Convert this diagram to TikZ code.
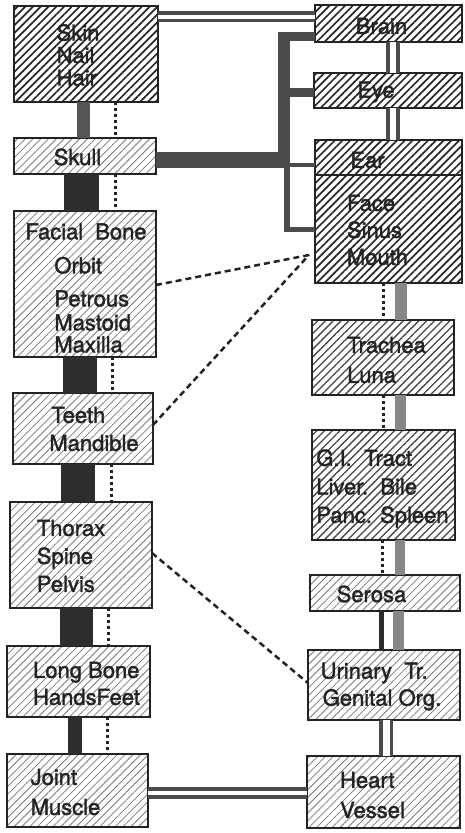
\documentclass[tikz,border=0pt]{standalone}
\usepackage{fontspec}
\setmainfont{TeX Gyre Heros}
\newfontfamily\labelfont{TeX Gyre Heros}[FakeBold=1.6]
\usetikzlibrary{patterns.meta}
\definecolor{inkblack}{RGB}{35, 35, 35}
\definecolor{hatchdark}{RGB}{40, 40, 40}
\definecolor{hatchmid}{RGB}{70, 70, 70}
\definecolor{hatchlight}{RGB}{120, 120, 120}
\definecolor{bardark}{RGB}{45, 45, 45}
\definecolor{bartrunk}{RGB}{75, 75, 75}
\definecolor{bargray}{RGB}{85, 85, 85}
\definecolor{barpale}{RGB}{135, 135, 135}

\begin{document}
\begin{tikzpicture}[x=1pt, y=-1pt,
    organ/.style={draw=inkblack, line width=2.6pt, outer sep=0pt, inner sep=0pt},
    dims/.style 2 args={minimum width=#1pt, minimum height=#2pt},
    darkbox/.style={organ, pattern={Lines[angle=45, distance=5.5pt, line width=1.7pt]},
      pattern color=hatchdark},
    midbox/.style={organ, pattern={Lines[angle=45, distance=5.5pt, line width=1.3pt]},
      pattern color=hatchmid},
    lightbox/.style={organ, pattern={Lines[angle=45, distance=5.5pt, line width=0.8pt]},
      pattern color=hatchlight},
    txt/.style={font=\labelfont\fontsize{22}{28}\selectfont, align=left, inner sep=0pt, text=inkblack},
    solidbar/.style={line width=#1, bardark},
    graybar/.style={line width=#1, barpale},
    dotline/.style={line width=3pt, inkblack, dash pattern=on 3pt off 3pt},
    dashline/.style={line width=2.5pt, inkblack, dash pattern=on 6pt off 4pt},
    twinline/.style={double=white, double distance=#1, line width=3.8pt, bartrunk}]

\useasboundingbox (0,0) rectangle (465,833);

%% ── LEFT COLUMN: bone / surface ─────────────────────────────────────────────
\node[darkbox, dims={144}{96}] (skin) at (86,54) {};
\node[lightbox, dims={142}{36}] (skull) at (85,156) {};
\node[lightbox, dims={142}{146}] (facial) at (85,284) {};
\node[lightbox, dims={140}{71}] (teeth) at (83,428.5) {};
\node[lightbox, dims={142}{106}] (thorax) at (81,555) {};
\node[lightbox, dims={143}{71}] (longbone) at (78.5,681.5) {};
\node[lightbox, dims={141}{73}] (joint) at (77.5,790.5) {};

\node[txt, font=\labelfont\fontsize{22}{22.5}\selectfont] (skintx) at (78,55) {Skin\\Nail\\Hair};
\node[txt] (skulltx) at (77.5,157) {Skull};
\node[txt] (facialtx) at (86,288)
  {Facial\hspace{12pt}Bone\\[6pt]
   \hspace*{29pt}Orbit\\[5pt]
   \hspace*{29pt}Petrous\\[-4pt]
   \hspace*{29pt}Mastoid\\[-6pt]
   \hspace*{29pt}Maxilla};
\node[txt] (teethtx) at (94,429) {\hspace*{2pt}Teeth\\Mandible};
\node[txt] (thoraxtx) at (71,556) {Thorax\\Spine\\Pelvis};
\node[txt, font=\labelfont\fontsize{22}{27}\selectfont] (longbonetx) at (86.5,683.5) {Long Bone\\HandsFeet};
\node[txt, font=\labelfont\fontsize{22}{30}\selectfont] (jointtx) at (65.5,792) {Joint\\Muscle};

%% ── RIGHT COLUMN: organs ────────────────────────────────────────────────────
\node[darkbox, dims={147}{37}] (brain) at (388.5,23.5) {};
\node[darkbox, dims={148}{35}] (eye) at (388,90.5) {};
\node[darkbox, dims={147}{35}] (ear) at (388.5,157.5) {};
\node[darkbox, dims={147}{108}] (face) at (388.5,229) {};
\node[midbox, dims={142}{75}] (trachea) at (383,357.5) {};
\node[midbox, dims={143}{110}] (gi) at (383.5,485) {};
\node[lightbox, dims={150}{36}] (serosa) at (385,593) {};
\node[lightbox, dims={152}{70}] (urinary) at (384,685) {};
\node[lightbox, dims={153}{72}] (heart) at (383.5,792) {};

\node[txt] (braintx) at (381.5,26) {Brain};
\node[txt] (eyetx) at (376,92) {Eye};
\node[txt] (eartx) at (367.5,160) {Ear};
\node[txt, font=\labelfont\fontsize{22}{27}\selectfont] (facetx) at (377.5,230) {Face\\Sinus\\Mouth};
\node[txt, font=\labelfont\fontsize{22}{30}\selectfont] (tracheatx) at (386.5,360) {Trachea\\Luna};
\node[txt, font=\labelfont\fontsize{22}{28.5}\selectfont] (gitx) at (382.5,488.5)
  {G.I.\ \ Tract\\Liver.\ \ Bile\\Panc. Spleen};
\node[txt] (serosatx) at (371.5,594) {Serosa};
\node[txt, font=\labelfont\fontsize{22}{27}\selectfont] (urinarytx) at (381,686.5)
  {Urinary\ \ Tr.\\\hspace*{2pt}Genital Org.};
\node[txt, font=\labelfont\fontsize{22}{30}\selectfont] (hearttx) at (372.5,795) {Heart\\Vessel};

%% ── LEFT COLUMN LINKS ───────────────────────────────────────────────────────
\draw[solidbar=13pt, bargray] (skin.south -| 83.5,0) -- (skull.north -| 83.5,0);
\draw[dotline] (skin.south -| 115,0) -- (skull.north -| 115,0);
\draw[solidbar=35pt] (skull.south -| 81.5,0) -- (facial.north -| 81.5,0);
\draw[dotline] (skull.south -| 115,0) -- (facial.north -| 115,0);
\draw[solidbar=34pt] (facial.south -| 80,0) -- (teeth.north -| 80,0);
\draw[dotline] (facial.south -| 112,0) -- (teeth.north -| 112,0);
\draw[solidbar=34pt] (teeth.south -| 78,0) -- (thorax.north -| 78,0);
\draw[dotline] (teeth.south -| 111,0) -- (thorax.north -| 111,0);
\draw[solidbar=33pt] (thorax.south -| 76.5,0) -- (longbone.north -| 76.5,0);
\draw[dotline] (thorax.south -| 108,0) -- (longbone.north -| 108,0);
\draw[solidbar=14pt] (longbone.south -| 75,0) -- (joint.north -| 75,0);
\draw[dotline] (longbone.south -| 107,0) -- (joint.north -| 107,0);

%% ── RIGHT COLUMN LINKS ──────────────────────────────────────────────────────
\draw[twinline=6pt] (brain.south -| 393,0) -- (eye.north -| 393,0);
\draw[twinline=6pt] (eye.south -| 393,0) -- (ear.north -| 393,0);
\draw[dotline] (face.south -| 383,0) -- (trachea.north -| 383,0);
\draw[graybar=12pt] (face.south -| 401,0) -- (trachea.north -| 401,0);
\draw[dotline] (trachea.south -| 383,0) -- (gi.north -| 383,0);
\draw[graybar=11pt] (trachea.south -| 400.5,0) -- (gi.north -| 400.5,0);
\draw[dotline] (gi.south -| 382,0) -- (serosa.north -| 382,0);
\draw[graybar=10pt] (gi.south -| 400,0) -- (serosa.north -| 400,0);
\draw[solidbar=5pt] (serosa.south -| 381,0) -- (urinary.north -| 381,0);
\draw[graybar=11pt] (serosa.south -| 398.5,0) -- (urinary.north -| 398.5,0);
\draw[twinline=7pt] (urinary.south -| 386,0) -- (heart.north -| 386,0);

%% ── CROSS LINKS ─────────────────────────────────────────────────────────────
\draw[twinline=4pt] (skin.east |- 0,16.5) -- (brain.west |- 0,16.5);
\draw[twinline=4pt] (joint.east |- 0,793) -- (heart.west |- 0,793);

% Skull trunk, branching to brain, eye, ear and face
\coordinate (trunktop) at (284,32);
\coordinate (trunkfoot) at (286.5,232);
\draw[solidbar=16pt, bartrunk] (skull.east |- 0,159.5) -- (290,159.5);
\draw[solidbar=12pt, bartrunk] (trunktop) -- (284,167);
\draw[solidbar=9pt, bartrunk] (278,36.5) -- (brain.west |- 0,36.5);
\draw[solidbar=9pt, bartrunk] (290,92) -- (eye.west |- 0,92);
\draw[solidbar=3.5pt, bartrunk] (290,165) -- (ear.west |- 0,165);
\draw[solidbar=6pt, bartrunk] (286.5,160) -- (trunkfoot);
\draw[solidbar=5pt, bartrunk] (283.5,229.5) -- (face.west |- 0,229.5);

% dashed cross references
\coordinate (facemeet) at (309,255);
\draw[dashline] (facial.east |- 0,285) -- (facemeet);
\draw[dashline] (teeth.east |- 0,425) -- (facemeet);
\draw[dashline] (thorax.east |- 0,553) -- (urinary.west |- 0,683);

\end{tikzpicture}
\end{document}
